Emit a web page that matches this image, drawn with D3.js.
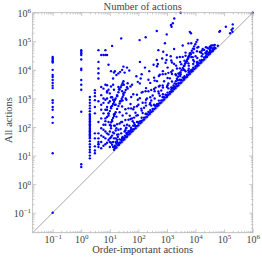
<!DOCTYPE html>
<html>
<head>
<meta charset="utf-8">
<script src="https://cdn.jsdelivr.net/npm/d3@7"></script>
<style>
  body { margin: 0; background: #fff; }
</style>
</head>
<body>
<div id="main"></div>
<script>
// axis extent and tick labels
let axisMin = 0.02, axisMax = 1e6
let majorTicks = [0.1, 1, 10, 100, 1e3, 1e4, 1e5, 1e6]

// columns at small order-important counts (0 is drawn at 0.1)
let zeroColumn = [28000, 25000, 22000, 20000, 18000, 10000, 6600, 5600, 4400, 3500, 2800, 2300, 870, 710, 500, 400, 220, 140, 12, 0.1]
let oneColumn = [49000, 43000, 38000, 33000, 23000, 11000, 9800, 4400, 3000, 2000, 340, 5, 4]
let twoColumn = [1120, 890, 710, 560, 450, 355, 280, 250, 224, 200, 178, 158, 141, 126, 112, 100, 89, 79, 71, 63, 56, 50, 45, 40, 32, 25, 20, 16, 13, 10, 8]
let threeColumn = [1950, 1550, 1200, 870, 500, 300, 60, 40, 21, 15, 12]
let fourColumn = [49000, 19000, 11200, 7600, 5000, 800, 150, 60, 40, 30, 25, 20]

// [order-important actions, all actions]
let nearDiagonal = [[14,16],[15,18],[17,19],[19,23],[21,24],[23,28],[26,30],[29,35],[32,37],[36,44],[40,46],[45,54],[50,58],[56,67],[63,72],[70,84],[79,91],[88,106],[100,115],[112,134],[126,145],[141,169],[158,182],[178,214],[200,230],[224,269],[251,289],[282,338],[316,363],[355,426],[398,458],[447,536],[501,576],[562,674],[631,726],[708,850],[794,913],[891,1070],[1000,1150],[1120,1340],[1260,1450],[1410,1690],[1590,1830],[1780,2140],[2000,2300],[2240,2690],[2510,2890],[2820,3380],[3160,3630],[3550,4260],[3980,4580],[4470,5360],[5010,5760],[5620,6740],[6310,7260],[7080,8500],[7940,9130],[8910,10700],[10000,11500],[11200,13400],[12600,14500],[14100,16900],[15800,18200],[17800,21400],[20000,23000],[22400,26900],[25100,28900],[28200,33800],[31600,36300],[35500,42600],[39800,45800],[44700,53600],[50100,57600]]
let nearDiagonal2 = [[16,21],[20,27],[25,35],[32,42],[40,54],[50,70],[63,82],[79,107],[100,140],[126,164],[158,213],[200,280],[251,326],[316,427],[398,557],[501,651],[631,852],[794,1110],[1000,1300],[1260,1700],[1580,2210],[2000,2600],[2510,3390],[3160,4420],[3980,5170],[5010,6760],[6310,8830],[7940,10300],[10000,13500],[12600,17600],[15800,20500],[20000,27000],[25100,35100],[31600,41100],[39800,53700]]
let lowBand = [[13,20],[18,36],[22,37],[28,39],[35,77],[45,72],[56,84],[70,140],[89,151],[112,157],[141,310],[178,285],[224,336],[282,564],[355,604],[447,626],[562,1240],[708,1130],[891,1340],[1120,2240],[1410,2400],[1780,2490],[2240,4930],[2820,4510],[3550,5330],[4470,8940],[5620,9550],[7080,9910],[8910,19600],[11200,17900],[14100,21200],[17800,35600],[22400,38100],[28200,39500],[35500,71000],[44700,71500]]
let midBand = [[10,30],[13,65],[16,40],[20,80],[25,150],[32,112],[40,120],[50,250],[63,158],[79,316],[100,600],[126,441],[158,474],[200,1000],[251,628],[316,1260],[398,2390],[501,1750],[631,1890],[794,3970],[1000,2500],[1260,5040],[1580,9480],[2000,7000],[2510,7530],[3160,15800],[3980,9950],[5010,20000],[6310,37900],[7940,27800],[10000,30000],[12600,63000],[15800,39500],[20000,50000],[25100,60000],[31600,63000],[39800,72000]]
let midBand2 = [[11,44],[14,112],[18,54],[22,132],[28,252],[35,175],[45,180],[56,448],[71,213],[89,534],[112,1010],[141,705],[178,712],[224,1790],[282,846],[355,2130],[447,4020],[562,2810],[708,2830],[891,7130],[1120,3360],[1410,8460],[1780,16000],[2240,11200],[2820,11300],[3550,28400],[4470,40200],[5620,16900],[7080,28300],[8910,53500],[11200,44800],[14100,42300],[17800,53400]]
let highBand = [[11,110],[14,280],[18,126],[22,330],[28,840],[35,420],[45,450],[56,1120],[71,497],[89,1340],[112,3360],[141,1690],[178,1780],[224,4480],[282,1970],[355,5330],[447,13400],[562,6740],[708,7080],[891,17800],[1120,7840],[1410,21200],[1780,53400],[2240,26900],[2820,28200],[3550,71000],[4470,31300],[5620,84300],[7080,85000]]
let topBand = [[8,400],[11,1100],[15,600],[21,2100],[30,1500],[42,3400],[60,3000],[85,6000],[120,5000],[170,12000],[240,9000],[340,15000],[480,16000],[680,25000],[960,22000],[1350,30000]]
let scattered = [[17,26],[17,90],[17,230],[27,41],[27,150],[27,520],[38,62],[38,95],[38,300],[38,900],[53,75],[53,190],[53,640],[53,2600],[66,110],[66,420],[66,1400],[95,150],[95,260],[95,900],[95,3800],[130,210],[130,380],[130,1600],[130,7000],[185,290],[185,560],[185,2300],[185,900],[260,390],[260,1100],[260,3500],[260,700],[370,560],[370,990],[370,4200],[370,1800],[520,840],[520,1500],[520,6100],[520,2600],[720,1100],[720,2400],[720,9000],[720,1400],[1050,1600],[1050,2900],[1050,12000],[1050,5200],[1500,2300],[1500,3900],[1500,7200],[1500,18000],[2100,3200],[2100,6500],[2100,14000],[2900,4300],[2900,8000],[2900,19000],[2900,6100],[4100,6000],[4100,9800],[4100,21000],[4100,14000],[5800,8200],[5800,14000],[5800,30000],[5800,11000],[8300,12000],[8300,22000],[8300,40000],[8300,16000],[11500,15500],[11500,26000],[11500,60000],[11500,19000],[16500,22000],[16500,30000],[16500,47000],[23000,30000],[23000,41000],[23000,62000],[33000,42000],[33000,58000],[33000,48000],[47000,60000],[47000,75000],[16,30],[19,45],[22,28],[25,60],[30,38],[34,50],[37,90],[44,65],[48,110],[55,95],[60,200],[75,120],[85,250]]
let smallCounts = [[5,30],[6,45],[7,25],[8,60],[9,35],[10,70],[11,28],[12,50],[14,40],[16,75],[18,30],[20,55],[24,85],[28,45],[33,70],[40,60],[4,25],[5,50],[5,18],[6,22],[6,80],[7,40],[7,120],[8,28],[9,55],[9,150],[10,20],[10,40],[11,90],[12,24],[12,160],[13,30],[14,60],[15,110],[15,22],[5,400],[6,700],[7,200],[8,1000],[9,300],[10,1500],[11,500],[13,900],[14,2000],[16,600],[18,1200],[20,2500],[23,800],[27,1800],[31,3000],[36,1000],[42,2200],[5,2500],[5,600],[5,200],[5,90],[6,1000],[6,300],[7,3000],[7,400],[7,70],[8,1800],[8,500],[9,700],[9,250],[5,1300],[6,2200],[7,900],[8,1600],[9,2000],[10,800],[11,2600],[12,1100],[13,3000],[8,2900],[13,5000],[17,6600],[23,8500],[15,9000],[20,7500],[27,10000],[33,8000],[40,12000],[48,9500],[30,13000],[9,15000],[11,9000],[14,8000]]
// the steep streaks (all actions growing ~ square of order-important)
let streakA = [[6,120],[7,160],[8,225],[9,290],[10,360],[11,450],[12,540],[13,640],[14,750],[15,880],[16,1000],[18,1300],[20,1650],[22,2050],[24,2450],[26,2900],[28,3400],[30,4000]]
let streakB = [[10,117],[11,145],[12,175],[13,208],[14,245],[15,287],[16,330],[18,430],[20,540],[22,665],[24,800],[26,955],[28,1120],[30,1315],[33,1630],[36,1980],[40,2480]]
let streakC = [[1410,2000],[1550,2380],[1700,2830],[1860,3370],[2040,4020],[2240,4790],[2450,5700],[2690,6790],[2950,8090],[3240,9640],[3550,11500],[3890,13700],[4270,16300],[4680,19400],[5130,23100],[5620,27500],[6170,32800],[6760,39100],[7410,46600],[8130,55500],[8910,66100],[9770,78700],[10700,93800],[11700,112000],[2400,4300],[3000,7000],[3700,11000],[4500,17500],[5500,25000],[6800,35000]]
let outliers = [[5,33000],[6,33000],[7,33000],[8,33000],[7,49000],[12,69000],[25,126000],[110,110000],[180,138000],[440,229000],[980,174000],[1450,324000],[1800,630000],[1600,427000],[1380,372000],[3000,1000000],[6300,214000],[6900,190000],[850,85000],[500,49000],[740,43000],[980,33000],[113,19000],[440,22000],[68000,214000],[115000,324000],[200000,389000],[200000,282000],[162000,190000],[72000,229000],[182000,251000],[195000,215000],[32000,65000],[42000,56000],[60000,70000],[25000,45000],[28000,56000],[32000,50000],[36000,60000],[40000,48000],[45000,55000],[1000000,1000000]]

// set the dimensions and margins of the graph
let margin = {top: 12.7, right: 9.3, bottom: 24.3, left: 32.7},
    width = 262 - margin.left - margin.right,
    height = 257 - margin.top - margin.bottom;

let x = d3.scaleLog().domain([axisMin, axisMax]).range([0, width])
let y = d3.scaleLog().domain([axisMin, axisMax]).range([height, 0])

let svg = d3.select("#main")
    .append("svg")
    .attr("width", 262)
    .attr("height", 257)
    .style("font-family", "'Liberation Serif', serif")

let g = svg.append("g")
    .attr("transform", "translate(" + margin.left + "," + margin.top + ")")

// y = x reference line
g.append("line")
    .attr("x1", x(axisMin)).attr("y1", y(axisMin))
    .attr("x2", x(axisMax)).attr("y2", y(axisMax))
    .attr("stroke", "#808080")
    .attr("stroke-width", 0.7)

let points = [].concat(
    zeroColumn.map(v => [0.1, v]),
    oneColumn.map(v => [1, v]),
    twoColumn.map(v => [2, v]),
    threeColumn.map(v => [3, v]),
    fourColumn.map(v => [4, v]),
    nearDiagonal, nearDiagonal2, lowBand, midBand, midBand2, highBand, topBand,
    scattered, smallCounts, streakA, streakB, streakC, outliers)

g.selectAll("circle.pt")
    .data(points)
    .enter()
    .append("circle")
    .attr("class", "pt")
    .attr("cx", d => x(d[0]))
    .attr("cy", d => y(d[1]))
    .attr("r", 1.2)
    .attr("fill", "#0000ff")

// frame
g.append("rect")
    .attr("width", width)
    .attr("height", height)
    .attr("fill", "none")
    .attr("stroke", "#b4b4b4")
    .attr("stroke-width", 0.8)

let isMajor = d => Math.abs(Math.log10(d) - Math.round(Math.log10(d))) < 1e-6
let minorTicks = x.ticks().filter(d => !isMajor(d) && d > axisMin)

function frameTicks(axis, transform, values, len) {
    let a = g.append("g")
        .attr("transform", transform)
        .call(axis.tickValues(values).tickSize(-len).tickFormat(""))
    a.select(".domain").remove()
    a.selectAll("line").attr("stroke", "#a8a8a8").attr("stroke-width", 0.6)
    return a
}

// minor and major ticks on all four sides, pointing inwards
frameTicks(d3.axisBottom(x), "translate(0," + height + ")", minorTicks, 1.8)
frameTicks(d3.axisTop(x), "translate(0,0)", minorTicks, 1.8)
frameTicks(d3.axisLeft(y), "translate(0,0)", minorTicks, 1.8)
frameTicks(d3.axisRight(y), "translate(" + width + ",0)", minorTicks, 1.8)
let xAxisGroup = frameTicks(d3.axisBottom(x).tickPadding(3.2), "translate(0," + height + ")", majorTicks, 3.5)
frameTicks(d3.axisTop(x), "translate(0,0)", majorTicks, 3.5)
let yAxisGroup = frameTicks(d3.axisLeft(y).tickPadding(1.6), "translate(0,0)", majorTicks, 3.5)
frameTicks(d3.axisRight(y), "translate(" + width + ",0)", majorTicks, 3.5)

function powerLabel(sel) {
    sel.each(function (d) {
        let e = Math.round(Math.log10(d))
        let t = d3.select(this).text(null)
            .attr("fill", "#444")
            .attr("font-size", "10px")
            .attr("font-family", "'Liberation Serif', serif")
        t.append("tspan").text("10")
        t.append("tspan")
            .attr("dy", "-4")
            .attr("font-size", "7px")
            .text(e < 0 ? "\u2212" + (-e) : e)
    })
}

xAxisGroup.selectAll(".tick text").call(powerLabel)
yAxisGroup.selectAll(".tick text").attr("dy", "0.4em").call(powerLabel)
xAxisGroup.attr("font-family", null).attr("font-size", null)
yAxisGroup.attr("font-family", null).attr("font-size", null)

// titles
g.append("text")
    .attr("x", width / 2)
    .attr("y", -3.2)
    .attr("text-anchor", "middle")
    .attr("font-size", "10.5px")
    .attr("fill", "#444")
    .text("Number of actions")

g.append("text")
    .attr("x", width / 2)
    .attr("y", height + 20.8)
    .attr("text-anchor", "middle")
    .attr("font-size", "10.5px")
    .attr("fill", "#444")
    .text("Order-important actions")

g.append("text")
    .attr("transform", "rotate(-90)")
    .attr("x", -107.3)
    .attr("y", -21.2)
    .attr("text-anchor", "middle")
    .attr("font-size", "10.5px")
    .attr("fill", "#444")
    .text("All actions")
</script>
</body>
</html>
